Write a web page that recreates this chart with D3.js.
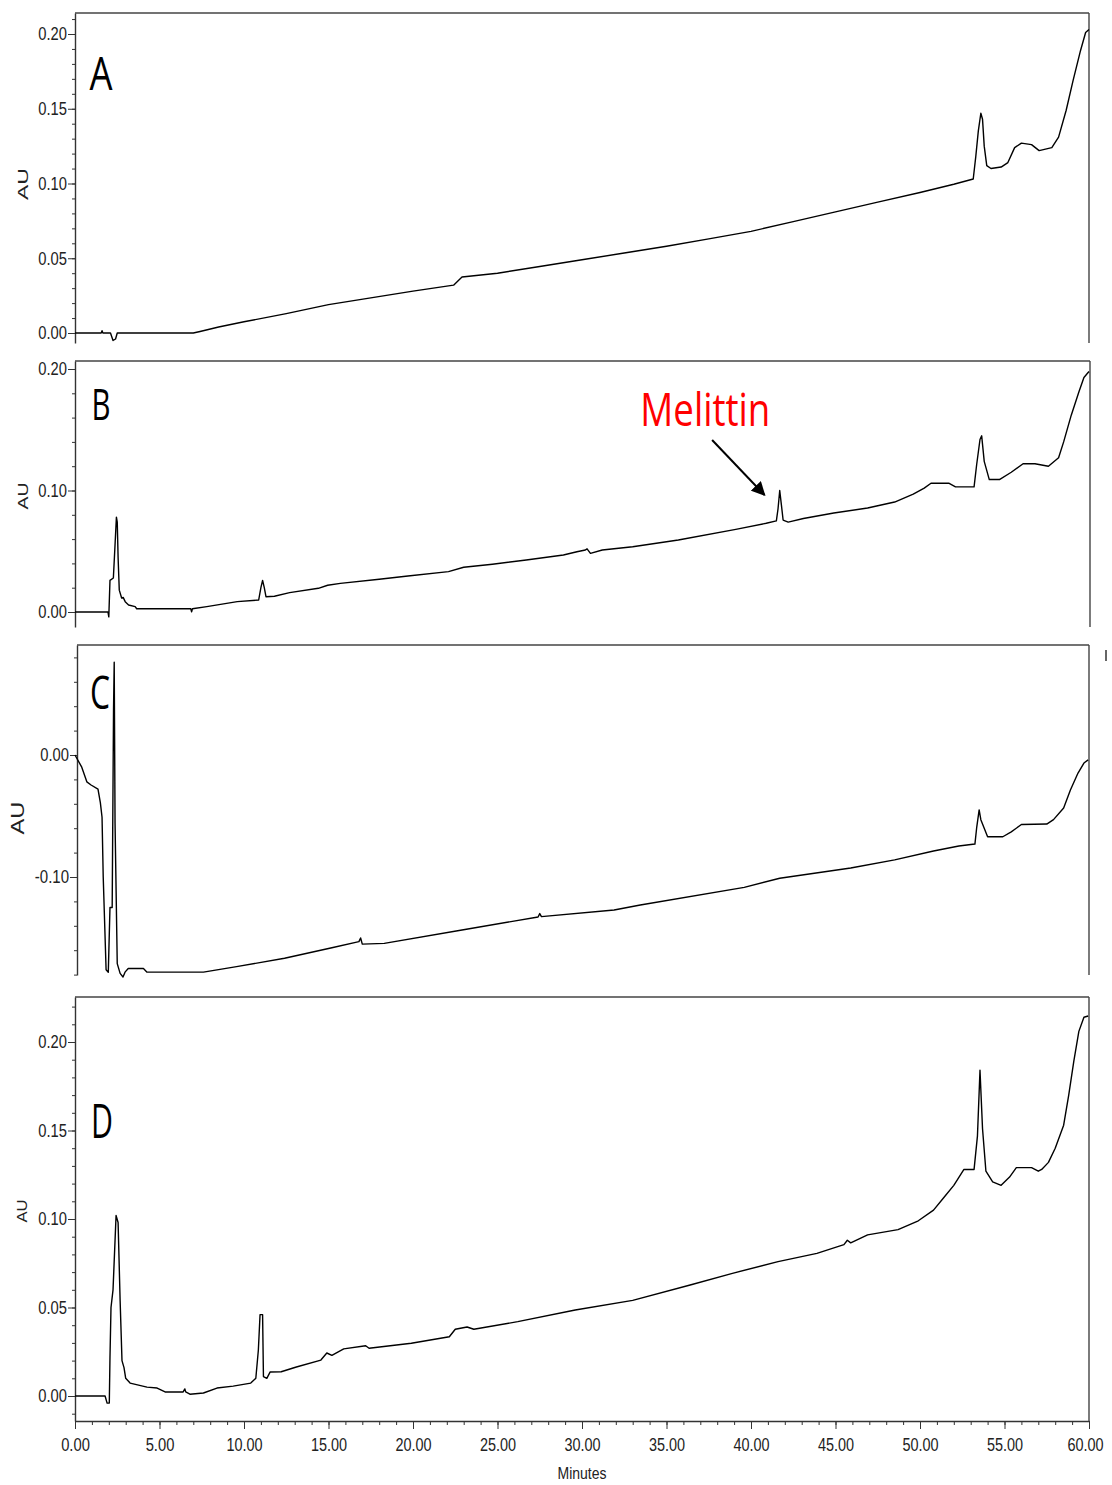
<!DOCTYPE html>
<html><head><meta charset="utf-8">
<script src="https://cdn.jsdelivr.net/npm/d3@7"></script>
<style>
body{margin:0;background:#fff;}
svg text{font-family:"Liberation Sans",Arial,sans-serif;}
</style></head><body>
<svg id="chart" width="1112" height="1485"></svg>
<script>
// ---------------- DATA ----------------
const xTicks = [0, 5, 10, 15, 20, 25, 30, 35, 40, 45, 50, 55, 60];
const yTicksA = [0, 0.05, 0.10, 0.15, 0.20];
const yTicksB = [0, 0.10, 0.20];
const yTicksC = [0, -0.10];
const yTicksD = [0, 0.05, 0.10, 0.15, 0.20];
const panelLabels = ["A", "B", "C", "D"];
const yLabel = "AU";
const xLabel = "Minutes";
const annotationText = "Melittin";
const annotationArrow = [[37.7, 0.1416], [40.8, 0.0963]];

const traceA = [[0,0],[1.55,0],[1.6,0.0015],[1.65,0],[2.1,0],[2.25,-0.005],[2.4,-0.004],[2.5,0],[7.0,0],[7.4,0.001],[8.5,0.004],[10,0.0075],[12.5,0.013],[15,0.019],[17.5,0.0235],[20,0.028],[22.4,0.032],[22.9,0.0375],[25,0.040],[27.5,0.0445],[30,0.049],[32.5,0.0535],[35,0.058],[37.5,0.063],[40,0.068],[42.5,0.0745],[45,0.081],[47.5,0.0875],[50,0.094],[52,0.0995],[53.15,0.103],[53.3,0.118],[53.45,0.135],[53.6,0.147],[53.7,0.143],[53.8,0.125],[53.95,0.112],[54.2,0.110],[54.8,0.111],[55.2,0.114],[55.6,0.124],[56.0,0.127],[56.6,0.126],[57.05,0.122],[57.8,0.124],[58.2,0.131],[58.65,0.149],[59.06,0.169],[59.5,0.189],[59.8,0.201],[60.0,0.203]];

const traceB = [[0,0],[1.95,0],[2.0,-0.004],[2.07,0.026],[2.27,0.028],[2.35,0.05],[2.45,0.078],[2.5,0.074],[2.55,0.045],[2.62,0.018],[2.76,0.0115],[2.85,0.012],[2.97,0.0085],[3.17,0.0058],[3.56,0.0044],[3.65,0.0027],[6.85,0.0027],[6.9,0.0002],[6.95,0.0027],[7.8,0.0044],[9.6,0.0085],[10.87,0.0099],[11.0,0.020],[11.1,0.026],[11.2,0.020],[11.3,0.0126],[11.8,0.013],[12.7,0.0159],[14.4,0.0195],[14.95,0.022],[15.7,0.0236],[18.0,0.027],[19.7,0.0296],[22.1,0.0332],[23.0,0.0368],[24.7,0.0393],[26.7,0.0428],[28.9,0.0469],[29.7,0.0496],[30.2,0.051],[30.3,0.052],[30.5,0.0483],[31.2,0.051],[33.0,0.0537],[35.7,0.0593],[39.1,0.068],[40.9,0.073],[41.5,0.075],[41.6,0.085],[41.7,0.100],[41.8,0.088],[41.9,0.0757],[42.2,0.074],[43.1,0.077],[44.9,0.0815],[46.9,0.0856],[48.5,0.0905],[49.6,0.097],[50.25,0.102],[50.65,0.106],[51.7,0.106],[52.1,0.103],[53.2,0.103],[53.35,0.121],[53.55,0.142],[53.65,0.145],[53.8,0.124],[54.1,0.109],[54.7,0.109],[55.4,0.115],[56.1,0.122],[56.8,0.122],[57.6,0.120],[58.2,0.127],[58.5,0.140],[58.95,0.162],[59.4,0.181],[59.7,0.193],[60.0,0.198]];

const traceC = [[0,0],[0.4,-0.01],[0.7,-0.022],[0.95,-0.0246],[1.36,-0.028],[1.5,-0.039],[1.6,-0.051],[1.67,-0.10],[1.84,-0.176],[1.97,-0.178],[2.07,-0.125],[2.2,-0.125],[2.28,0.037],[2.32,0.076],[2.37,-0.056],[2.5,-0.171],[2.67,-0.179],[2.84,-0.182],[2.96,-0.178],[3.15,-0.175],[4.05,-0.175],[4.26,-0.178],[7.6,-0.178],[9.56,-0.1735],[12.4,-0.1666],[15.2,-0.158],[16.8,-0.153],[16.9,-0.150],[17.0,-0.155],[18.3,-0.1544],[22.9,-0.1434],[27.4,-0.1328],[27.5,-0.130],[27.6,-0.1325],[31.9,-0.127],[33.45,-0.123],[39.6,-0.1085],[41.7,-0.101],[45.9,-0.0926],[48.5,-0.086],[50.8,-0.0787],[52.3,-0.0746],[53.25,-0.073],[53.35,-0.060],[53.5,-0.045],[53.6,-0.053],[54.0,-0.067],[54.9,-0.067],[55.4,-0.063],[56.0,-0.057],[57.5,-0.0566],[57.9,-0.053],[58.5,-0.0434],[58.9,-0.0287],[59.35,-0.0148],[59.7,-0.0066],[59.95,-0.004]];

const traceD = [[0,0],[1.78,0],[1.9,-0.004],[2.03,-0.004],[2.07,0.022],[2.13,0.05],[2.25,0.06],[2.37,0.088],[2.43,0.102],[2.55,0.098],[2.67,0.054],[2.78,0.020],[2.9,0.016],[3.0,0.010],[3.26,0.0073],[4.26,0.005],[4.86,0.0045],[5.33,0.0023],[6.4,0.0023],[6.5,0.004],[6.55,0.0023],[6.8,0.001],[7.6,0.0017],[8.4,0.0045],[9.36,0.0056],[10.4,0.0073],[10.7,0.010],[10.85,0.026],[10.95,0.046],[11.1,0.046],[11.15,0.011],[11.35,0.010],[11.55,0.0136],[12.2,0.0137],[13.1,0.0164],[14.55,0.0203],[14.9,0.0243],[15.2,0.023],[15.9,0.0266],[17.2,0.0284],[17.4,0.027],[19.9,0.0298],[22.15,0.0335],[22.5,0.0377],[23.2,0.039],[23.6,0.0377],[26.2,0.042],[29.6,0.0486],[33.0,0.054],[36.4,0.0627],[38.9,0.0693],[41.6,0.0759],[43.9,0.0806],[45.5,0.0855],[45.7,0.088],[45.9,0.0865],[46.9,0.091],[48.7,0.094],[49.9,0.099],[50.8,0.105],[51.4,0.112],[52.0,0.119],[52.6,0.128],[53.2,0.128],[53.4,0.147],[53.55,0.184],[53.7,0.151],[53.9,0.127],[54.3,0.121],[54.8,0.119],[55.3,0.1237],[55.7,0.129],[56.6,0.129],[57.0,0.127],[57.2,0.128],[57.6,0.132],[58.0,0.140],[58.5,0.153],[58.8,0.170],[59.1,0.189],[59.4,0.206],[59.7,0.214],[59.95,0.2147]];

// ---------------- LAYOUT ----------------
const panels = [
  {trace: traceA, ticks: yTicksA, minor: 0.01, left: 75, right: 1089, top: 13, bottom: 343, cal: [[0,333],[0.2,34]],
   label: {x: 101, y: 90, len: 23, fs: 46}, au: {x: 23, y: 184, len: 32, fs: 15}},
  {trace: traceB, ticks: yTicksB, minor: 0.02, left: 75, right: 1090, top: 361, bottom: 627, cal: [[0,612],[0.2,369]],
   label: {x: 101, y: 420, len: 19, fs: 44}, au: {x: 23, y: 496, len: 27, fs: 15}},
  {trace: traceC, ticks: yTicksC, minor: 0.02, left: 77, right: 1089, top: 645, bottom: 975, cal: [[0,755],[-0.1,877]],
   label: {x: 100, y: 709, len: 20, fs: 45}, au: {x: 18, y: 818, len: 33, fs: 18}},
  {trace: traceD, ticks: yTicksD, minor: 0.01, left: 75, right: 1089, top: 997, bottom: 1421, cal: [[0,1396],[0.2,1042]],
   label: {x: 102, y: 1138, len: 22, fs: 47}, au: {x: 22, y: 1211, len: 23, fs: 14}, xAxis: true}
];

const svg = d3.select("#chart");
const fmt = d => (Math.abs(d) < 1e-9 ? 0 : d).toFixed(2);
// condensed look: compress each numeric label to the reference width
const labelLen = s => s.split("").reduce((a, c) => a + (c === "." ? 6.5 : c === "-" ? 5.5 : 7.4), 0);
const condense = sel => sel.attr("font-size", 18).attr("fill", "#222")
  .attr("textLength", function () { return labelLen(this.textContent); })
  .attr("lengthAdjust", "spacingAndGlyphs");

panels.forEach((p, i) => {
  const g = svg.append("g");
  const x = d3.scaleLinear().domain([0, 60]).range([75, 1089]);
  const yc = d3.scaleLinear().domain([p.cal[0][0], p.cal[1][0]]).range([p.cal[0][1], p.cal[1][1]]);
  const y = d3.scaleLinear().domain([yc.invert(p.bottom), yc.invert(p.top)]).range([p.bottom, p.top]);

  // frame: top and right
  g.append("line").attr("x1", p.left).attr("x2", p.right).attr("y1", p.top).attr("y2", p.top)
    .attr("stroke", "#444").attr("stroke-width", 1.4);
  g.append("line").attr("x1", p.right).attr("x2", p.right).attr("y1", p.top).attr("y2", p.bottom)
    .attr("stroke", "#444").attr("stroke-width", 1.4);

  // minor y ticks
  const [d0, d1] = y.domain();
  const minorVals = d3.range(Math.ceil(d0 / p.minor - 1e-6), Math.floor(d1 / p.minor + 1e-6) + 1)
    .map(k => +(k * p.minor).toFixed(3));
  const gyMinor = g.append("g").attr("transform", `translate(${p.left},0)`)
    .call(d3.axisLeft(y).tickValues(minorVals).tickSize(3).tickSizeOuter(0).tickFormat(""));
  gyMinor.select(".domain").attr("stroke", "#333").attr("stroke-width", 1.4);
  gyMinor.selectAll(".tick line").attr("stroke", "#333");

  const gy = g.append("g").attr("transform", `translate(${p.left},0)`)
    .call(d3.axisLeft(y).tickValues(p.ticks).tickSize(7).tickPadding(1).tickSizeOuter(0).tickFormat(fmt));
  gy.select(".domain").remove();
  gy.selectAll(".tick line").attr("stroke", "#333");
  gy.selectAll(".tick text").call(condense).style("font-family", '"Liberation Sans",Arial,sans-serif');

  // AU label
  g.append("text").attr("transform", `translate(${p.au.x},${p.au.y}) rotate(-90)`)
    .attr("text-anchor", "middle").attr("dy", "0.36em")
    .attr("font-size", p.au.fs).attr("fill", "#222")
    .attr("textLength", p.au.len).attr("lengthAdjust", "spacingAndGlyphs")
    .text(yLabel);

  // panel letter
  g.append("text").attr("x", p.label.x).attr("y", p.label.y).attr("text-anchor", "middle")
    .attr("font-size", p.label.fs).attr("fill", "#000")
    .style("font-family", '"Open Sans",sans-serif')
    .attr("textLength", p.label.len).attr("lengthAdjust", "spacingAndGlyphs")
    .text(panelLabels[i]);

  // trace
  const line = d3.line().x(d => x(d[0])).y(d => y(d[1]));
  g.append("path").datum(p.trace).attr("d", line).attr("fill", "none")
    .attr("stroke", "#000").attr("stroke-width", 1.4).attr("stroke-linejoin", "round");

  if (p.xAxis) {
    const minorX = d3.range(0, 61, 1);
    const gxm = g.append("g").attr("transform", `translate(0,${p.bottom})`)
      .call(d3.axisBottom(x).tickValues(minorX).tickSize(4).tickSizeOuter(0).tickFormat(""));
    gxm.select(".domain").attr("stroke", "#333").attr("stroke-width", 1.4);
    gxm.selectAll(".tick line").attr("stroke", "#333");
    const gx = g.append("g").attr("transform", `translate(0,${p.bottom})`)
      .call(d3.axisBottom(x).tickValues(xTicks).tickSize(8).tickPadding(9).tickSizeOuter(0).tickFormat(fmt));
    gx.select(".domain").remove();
    gx.selectAll(".tick line").attr("stroke", "#333");
    gx.selectAll(".tick text").call(condense).style("font-family", '"Liberation Sans",Arial,sans-serif');
    // keep the last label inside the page, as in the reference
    gx.selectAll(".tick text").filter(d => d === 60).attr("dx", -4);
    g.append("text").attr("x", x(30)).attr("y", 1479).attr("text-anchor", "middle")
      .attr("font-size", 17).attr("fill", "#222")
      .attr("textLength", 49).attr("lengthAdjust", "spacingAndGlyphs").text(xLabel);
  }

  if (i === 1) {
    // Melittin annotation
    svg.append("defs").append("marker").attr("id", "arrowhead")
      .attr("viewBox", "0 0 10 10").attr("refX", 9).attr("refY", 5)
      .attr("markerWidth", 7).attr("markerHeight", 7).attr("orient", "auto")
      .attr("markerUnits", "strokeWidth")
      .append("path").attr("d", "M0,0 L10,5 L0,10 z").attr("fill", "#000");
    g.append("line")
      .attr("x1", x(annotationArrow[0][0])).attr("y1", y(annotationArrow[0][1]))
      .attr("x2", x(annotationArrow[1][0])).attr("y2", y(annotationArrow[1][1]))
      .attr("stroke", "#000").attr("stroke-width", 2).attr("marker-end", "url(#arrowhead)");
    g.append("text").attr("x", x(37.3)).attr("y", y(0.153)).attr("text-anchor", "middle")
      .attr("font-size", 46).attr("fill", "#ff0000")
      .style("font-family", '"Open Sans",sans-serif')
      .attr("textLength", 130).attr("lengthAdjust", "spacingAndGlyphs")
      .text(annotationText);
  }
  if (i === 2) {
    // small stray mark right of panel C frame
    g.append("line").attr("x1", 1106).attr("x2", 1106).attr("y1", p.top + 5).attr("y2", p.top + 16)
      .attr("stroke", "#333").attr("stroke-width", 1.5);
  }
});
</script>
</body></html>
